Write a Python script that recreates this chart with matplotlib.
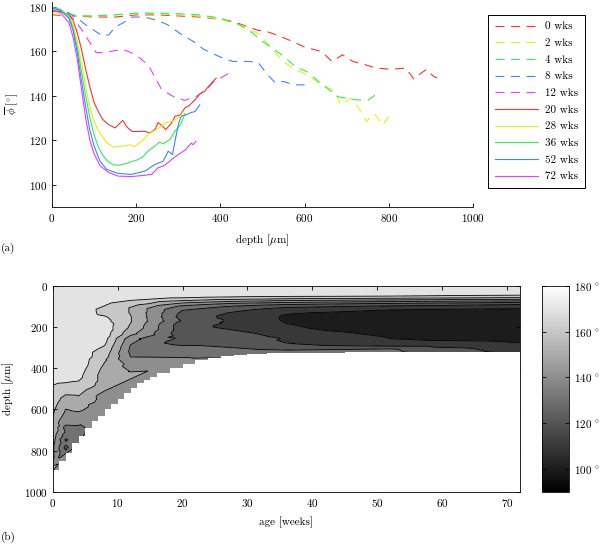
import numpy as np
import matplotlib
matplotlib.use("Agg")
import matplotlib.pyplot as plt
import matplotlib.tri as mtri
from matplotlib.colors import Normalize
from matplotlib.cm import ScalarMappable

plt.rcParams['font.family'] = ['cmr10', 'DejaVu Serif']
plt.rcParams['mathtext.fontset'] = 'cm'
plt.rcParams['axes.formatter.use_mathtext'] = True
plt.rcParams['font.size'] = 8

# profiles: depth [um] and mean angle [deg]
d_0wk = [0, 50, 100, 150, 200, 250, 300, 350, 400, 430, 460, 490, 510, 540, 565, 600, 640, 665,
         690, 715, 745, 770, 805, 840, 860, 875, 890, 905, 915]
phi_0wk = [176.5, 176, 175.5, 175.5, 176.5, 176.5, 176, 175.5, 174.5, 173.5, 171.5, 169.5, 169, 167,
           165, 162, 160, 155.5, 158.5, 155.5, 154, 152.5, 152, 152.5, 147.5, 150, 152, 149, 148]
d_2wk = [0, 50, 100, 150, 200, 250, 300, 350, 400, 430, 460, 490, 520, 546, 572, 610, 640, 670,
         686, 710, 727, 747, 766, 785, 800]
phi_2wk = [177, 176, 176, 176.5, 177, 177, 176.5, 176, 174.5, 173, 171, 168, 162, 156, 152.5, 149,
           145, 142.5, 136, 139, 135, 128.5, 132, 127, 130.5]
d_4wk = [0, 30, 60, 100, 150, 200, 250, 300, 350, 400, 440, 475, 500, 527, 549, 579, 605, 643,
         680, 719, 750, 765, 775]
phi_4wk = [178.5, 177.5, 176, 176, 176.5, 177.3, 177.3, 177, 176.5, 175, 172.5, 168.5, 164.5, 161,
           158, 153, 151, 145, 139.6, 138.3, 138, 140, 143]
d_8wk = [0, 30, 60, 80, 100, 120, 135, 150, 170, 190, 220, 250, 275, 305, 340, 360, 400, 430,
         470, 490, 510, 530, 550, 575, 600]
phi_8wk = [179, 178.5, 175, 172, 169.5, 167, 167.5, 171, 173, 175.5, 175.5, 174, 172, 168, 164,
           161, 157.5, 155.5, 155.5, 155, 150, 146, 146.5, 145, 145]
d_12wk = [0, 30, 50, 70, 90, 105, 130, 150, 175, 200, 230, 260, 290, 315, 345, 370, 385, 400,
          414, 425]
phi_12wk = [179, 177.5, 175, 170, 164, 159.5, 159.5, 160.5, 160.5, 158.5, 153.5, 143, 139.5, 138,
            140, 143.5, 146.5, 148, 149.5, 151]
d_20wk = [0, 20, 40, 50, 60, 70, 80, 90, 100, 110, 120, 135, 150, 160, 168, 178, 190, 205, 220,
          233, 245, 252, 262, 270, 284, 292, 305, 316, 325, 340, 352, 362, 375, 390]
phi_20wk = [178, 178, 176.5, 174, 168.5, 161, 152, 144, 137, 133, 129.5, 127, 125.6, 127.5, 129,
            126, 124, 124, 124.1, 123.3, 125, 128, 126.5, 124.8, 127.8, 130.8, 131.5, 134.7, 135.5,
            138.3, 141, 142, 145, 148]
d_28wk = [0, 20, 40, 50, 60, 70, 80, 90, 100, 110, 120, 130, 145, 160, 175, 185, 195, 205, 215,
          230, 245, 260, 270, 285, 300, 311]
phi_28wk = [179, 178.5, 176, 172, 165, 155, 144, 135, 128.5, 124.5, 121.5, 119, 117, 117.3, 117.6,
            118, 117.2, 118.5, 120, 123, 124.5, 126.5, 128, 128.5, 130, 132.5]
d_36wk = [0, 20, 40, 50, 60, 70, 80, 90, 100, 110, 120, 130, 145, 160, 175, 190, 200, 215, 230,
          245, 255, 265, 280, 292, 305, 316]
phi_36wk = [180, 179, 176, 170.5, 162, 151, 140, 130, 122.5, 117, 113.5, 111, 109, 108.8, 109.5,
            110.5, 111, 112.5, 115.5, 117.5, 119.2, 118.5, 120.4, 124.1, 127.1, 132]
d_52wk = [0, 20, 40, 50, 60, 70, 80, 90, 100, 114, 130, 157, 189, 221, 244, 264, 276, 286, 296,
          302, 308, 320, 330, 340, 351]
phi_52wk = [179.5, 178.5, 175, 169.5, 159.5, 147, 135, 124.5, 117.5, 110.6, 106.9, 105.1, 104.7,
            106.2, 109.1, 110.6, 115.1, 113.6, 123.3, 128.5, 131, 131.6, 132.5, 133, 136]
d_72wk = [0, 20, 40, 50, 60, 70, 80, 90, 100, 114, 134, 157, 189, 221, 237, 252, 265, 276, 284,
          300, 316, 331, 335, 342]
phi_72wk = [178.5, 177.5, 173, 166.5, 156.5, 143, 130, 120, 114, 108.6, 105.6, 103.9, 103.7, 104.3,
            104.7, 107.7, 108.5, 110, 111.4, 113.6, 115.6, 118.8, 118, 119.6]

ages = [0, 2, 4, 8, 12, 20, 28, 36, 52, 72]
labels = ['0 wks', '2 wks', '4 wks', '8 wks', '12 wks', '20 wks', '28 wks', '36 wks', '52 wks', '72 wks']
depths = [d_0wk, d_2wk, d_4wk, d_8wk, d_12wk, d_20wk, d_28wk, d_36wk, d_52wk, d_72wk]
phis = [phi_0wk, phi_2wk, phi_4wk, phi_8wk, phi_12wk, phi_20wk, phi_28wk, phi_36wk, phi_52wk, phi_72wk]
line_colors = ['#ff3030', '#e2f010', '#30ee55', '#3d85ff', '#e040ff'] * 2

edge_age = [0, 1, 2, 3, 4, 5, 6, 7, 8, 9, 10, 11, 12, 13, 14, 15, 16, 18, 20, 22, 24, 26, 28, 30,
            33, 38, 45, 55, 72]
edge_depth = [895, 850, 810, 765, 730, 690, 655, 630, 600, 575, 550, 520, 495, 470, 455, 440, 425,
              400, 378, 360, 350, 340, 335, 331, 327, 324, 322, 320, 319]

levels = np.arange(90, 181, 10)
um = r'$\mu$'

fig = plt.figure(figsize=(6, 5.45), dpi=100)

# ---- (a)
ax = fig.add_axes([52/600, 1-207/545, 421/600, 205.5/545])
for i in range(10):
    ls = (0, (8, 6)) if i < 5 else '-'
    ax.plot(depths[i], phis[i], color=line_colors[i], lw=0.8, ls=ls, label=labels[i])
ax.set_xlim(0, 1000)
ax.set_ylim(90, 182.5)
ax.set_xticks(range(0, 1001, 200))
ax.set_yticks(range(100, 181, 20))
ax.spines['top'].set_visible(False)
ax.spines['right'].set_visible(False)
ax.tick_params(direction='in', length=3, width=0.6)
for s in ax.spines.values():
    s.set_linewidth(0.6)
ax.set_xlabel('depth [' + um + 'm]', labelpad=6)
ax.set_ylabel(r'$\overline{\phi}\ [^{\circ}]$', labelpad=6)
leg = ax.legend(loc='upper left', bbox_to_anchor=(488/600, 1-15/545), bbox_transform=fig.transFigure,
                borderaxespad=0, fancybox=False, edgecolor='k', framealpha=1, handlelength=3.9,
                handletextpad=0.6, labelspacing=0.62, borderpad=0.6)
leg.get_frame().set_linewidth(0.7)

# ---- (b)
axb = fig.add_axes([52.7/600, 1-491.7/545, 467.3/600, 205.7/545])
x = np.concatenate([np.full(len(d), a, dtype=float) for a, d in zip(ages, depths)])
y = np.concatenate([np.asarray(d, dtype=float) for d in depths])
z = np.concatenate([np.asarray(p, dtype=float) for p in phis])
tri = mtri.Triangulation(x, y, mtri.Triangulation(x * 10, y).triangles)
cmap = plt.get_cmap('gray')
norm = Normalize(90, 180)
band_colors = [cmap(norm(l)) for l in levels[:-1]]
axb.tricontourf(tri, z, levels=levels, colors=band_colors)
axb.tricontour(tri, z, levels=levels[1:-1], colors='k', linewidths=0.6)
axb.fill_between(edge_age, edge_depth, 1000, step='post', color='white', lw=0, zorder=2)
axb.set_xlim(0, 72)
axb.set_ylim(1000, 0)
axb.set_xticks(range(0, 71, 10))
axb.set_yticks(range(0, 1001, 200))
axb.tick_params(direction='in', length=3, width=0.6, top=True, right=True)
for s in axb.spines.values():
    s.set_linewidth(0.6)
axb.set_xlabel('age [weeks]', labelpad=6)
axb.set_ylabel('depth [' + um + 'm]', labelpad=6)

cax = fig.add_axes([541.7/600, 1-491.7/545, 27.6/600, 205.7/545])
cb = fig.colorbar(ScalarMappable(norm=norm, cmap=cmap), cax=cax)
cb.set_ticks(range(100, 181, 20))
cb.set_ticklabels([r'$%d\ ^{\circ}$' % v for v in range(100, 181, 20)])
cax.tick_params(direction='in', length=3, width=0.6, left=True, right=True)
cb.outline.set_linewidth(0.6)

fig.text(0.002, 1-248/545, '(a)', va='center', ha='left')
fig.text(0.002, 1-537/545, '(b)', va='center', ha='left')

fig.savefig('out.png', dpi=100)
